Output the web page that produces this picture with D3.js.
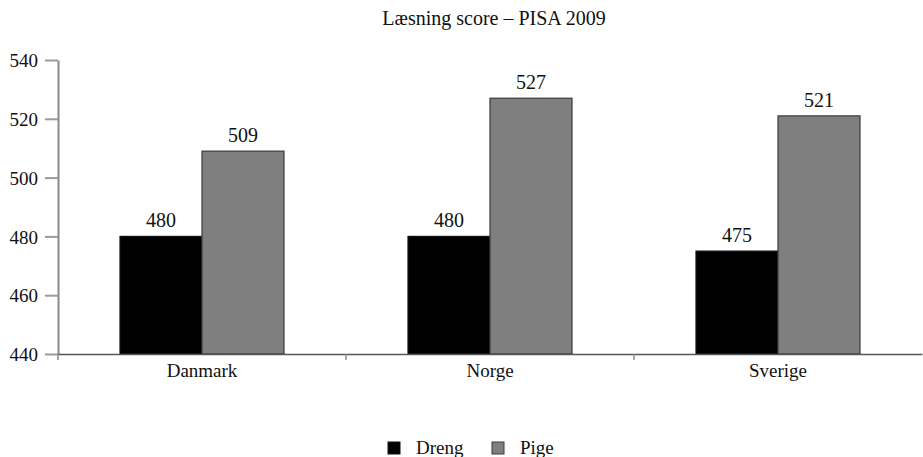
<!DOCTYPE html>
<html>
<head>
<meta charset="utf-8">
<script src="https://cdn.jsdelivr.net/npm/d3@7"></script>
<style>
  html, body { margin: 0; padding: 0; background: #fff; }
  svg { display: block; }
  svg text { font-family: "Liberation Serif", "Times New Roman", serif; fill: #111; }
</style>
</head>
<body>
<svg id="chart" width="923" height="457"></svg>
<script>
// PISA 2009 reading scores by country and gender
const countries = ["Danmark", "Norge", "Sverige"];
const seriesNames = ["Dreng", "Pige"];
const dreng = [480, 480, 475];
const pige = [509, 527, 521];
const yTicks = [440, 460, 480, 500, 520, 540];
const colors = ["#000000", "#7f7f7f"];
const strokes = ["#111111", "#3a3a3a"];

const svg = d3.select("#chart");
const margin = { left: 58, right: 1, top: 60, bottom: 103 };
const W = 923, H = 457;
const groupW = 164;

const x0 = d3.scaleBand().domain(countries).range([margin.left, W - margin.right]);
const x1 = d3.scaleBand().domain(seriesNames).range([0, groupW]);
const y = d3.scaleLinear().domain([440, 540]).range([H - margin.bottom, margin.top]);

// title
svg.append("text")
  .attr("x", 494).attr("y", 25)
  .attr("text-anchor", "middle")
  .attr("font-size", 20)
  .text("Læsning score – PISA 2009");

// y axis
const yAxis = svg.append("g")
  .attr("transform", `translate(${margin.left},0)`)
  .call(d3.axisLeft(y).tickValues(yTicks).tickSize(13).tickSizeOuter(0).tickPadding(7));
yAxis.attr("font-family", null);
yAxis.select(".domain").attr("stroke", "#8a8a8a").attr("stroke-width", 2);
yAxis.selectAll(".tick line").attr("stroke", "#9a9a9a").attr("stroke-width", 2);
yAxis.selectAll(".tick text").attr("font-size", 19).attr("dy", "0.35em");

// bars
const rows = countries.map((c, i) => ({ country: c, values: [dreng[i], pige[i]] }));
const groups = svg.append("g").selectAll("g")
  .data(rows).join("g")
  .attr("transform", d => `translate(${x0(d.country) + (x0.bandwidth() - groupW) / 2},0)`);

const cells = d => d.values.map((v, k) => ({ name: seriesNames[k], v, k }));

groups.selectAll("rect")
  .data(cells)
  .join("rect")
  .attr("x", d => x1(d.name))
  .attr("y", d => y(d.v))
  .attr("width", x1.bandwidth())
  .attr("height", d => y(440) - y(d.v))
  .attr("fill", d => colors[d.k])
  .attr("stroke", d => strokes[d.k])
  .attr("stroke-width", 1.2);

groups.selectAll("text.val")
  .data(cells)
  .join("text")
  .attr("class", "val")
  .attr("x", d => x1(d.name) + x1.bandwidth() / 2)
  .attr("y", d => y(d.v) - 9)
  .attr("text-anchor", "middle")
  .attr("font-size", 20)
  .text(d => d.v);

// x axis
const xAxis = svg.append("g")
  .attr("transform", `translate(0,${y(440)})`)
  .call(d3.axisBottom(x0).tickSize(0).tickPadding(10));
xAxis.attr("font-family", null);
xAxis.select(".domain").attr("stroke", "#555").attr("stroke-width", 1.5);
xAxis.selectAll(".tick text").attr("font-size", 19);
// separators between country groups
svg.append("g").selectAll("line")
  .data(countries)
  .join("line")
  .attr("x1", d => x0(d)).attr("x2", d => x0(d))
  .attr("y1", y(440)).attr("y2", y(440) + 6)
  .attr("stroke", "#8a8a8a").attr("stroke-width", 1.5);

// legend
const legend = svg.append("g").attr("transform", "translate(388,442)");
const legX = [0, 104];
seriesNames.forEach((n, k) => {
  const g = legend.append("g").attr("transform", `translate(${legX[k]},0)`);
  g.append("rect").attr("width", 12).attr("height", 12)
    .attr("fill", colors[k]).attr("stroke", strokes[k]).attr("stroke-width", 1);
  g.append("text").attr("x", 28).attr("y", 12)
    .attr("font-size", 19).text(n);
});
</script>
</body>
</html>
